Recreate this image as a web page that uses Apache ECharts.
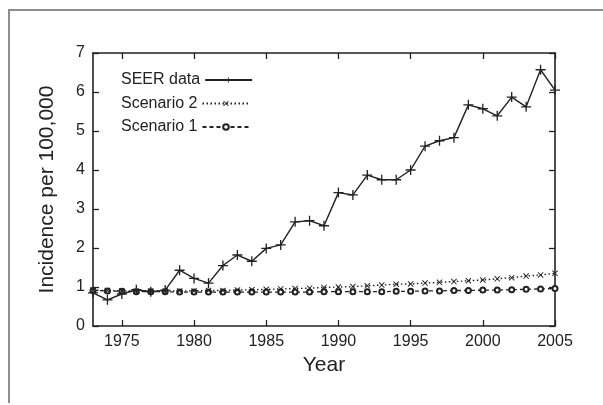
<!DOCTYPE html>
<html>
<head>
<meta charset="utf-8">
<script src="https://cdn.jsdelivr.net/npm/echarts@6/dist/echarts.min.js"></script>
<style>
  html, body { margin: 0; padding: 0; background: #fff; }
  #wrap { position: relative; width: 603px; height: 405px; overflow: hidden; }
  #chart { position: absolute; left: 0; top: 0; width: 603px; height: 405px; }
  #frame { position: absolute; left: 8px; top: 9px; width: 600px; height: 394px;
           border-top: 2.5px solid #8e8e8e; border-left: 2.5px solid #8e8e8e;
           box-sizing: border-box; pointer-events: none; }
</style>
</head>
<body>
<div id="wrap">
  <div id="chart"></div>
  <div id="frame"></div>
</div>
<script>
const years = [1973, 1974, 1975, 1976, 1977, 1978, 1979, 1980, 1981, 1982, 1983,
  1984, 1985, 1986, 1987, 1988, 1989, 1990, 1991, 1992, 1993, 1994, 1995, 1996,
  1997, 1998, 1999, 2000, 2001, 2002, 2003, 2004, 2005];
const seerData = [0.85, 0.67, 0.82, 0.93, 0.88, 0.92, 1.43, 1.22, 1.10, 1.55, 1.82,
  1.66, 1.99, 2.08, 2.67, 2.70, 2.57, 3.42, 3.36, 3.87, 3.75, 3.75, 4.00, 4.61,
  4.75, 4.83, 5.67, 5.57, 5.39, 5.87, 5.62, 6.57, 6.05];
const scenario2 = [0.92, 0.91, 0.90, 0.90, 0.90, 0.90, 0.90, 0.90, 0.91, 0.91, 0.92,
  0.93, 0.94, 0.95, 0.96, 0.97, 0.99, 1.00, 1.01, 1.03, 1.05, 1.07, 1.08, 1.10,
  1.12, 1.14, 1.16, 1.18, 1.21, 1.24, 1.28, 1.31, 1.35];
const scenario1 = [0.91, 0.90, 0.89, 0.88, 0.88, 0.88, 0.87, 0.87, 0.87, 0.87, 0.87,
  0.87, 0.87, 0.87, 0.87, 0.87, 0.88, 0.88, 0.88, 0.88, 0.88, 0.89, 0.89, 0.90,
  0.90, 0.91, 0.91, 0.92, 0.92, 0.93, 0.94, 0.95, 0.96];
const xTicks = [1975, 1980, 1985, 1990, 1995, 2000, 2005];
const seriesNames = ['SEER data', 'Scenario 2', 'Scenario 1'];

const ink = '#222';
const font = 'Liberation Sans, Arial, Helvetica, sans-serif';
const plusPath = 'path://M0,4.35H10V5.65H0ZM4.35,0H5.65V10H4.35Z';
const crossPath = 'path://M0,1.1L1.1,0L10,8.9L8.9,10ZM8.9,0L10,1.1L1.1,10L0,8.9Z';

function pairs(vals) { return years.map((y, i) => [y, vals[i]]); }

function legendFor(name, top) {
  return {
    orient: 'vertical', left: 116, top: top, align: 'right',
    itemWidth: 47, itemHeight: 7, itemGap: 0,
    data: [name],
    textStyle: { fontFamily: font, fontSize: 16, color: ink, lineHeight: 18 }
  };
}

const chart = echarts.init(document.getElementById('chart'), null, { renderer: 'canvas' });
const axisCommon = {
  axisLine: { show: true, onZero: false, lineStyle: { color: ink, width: 1.6 } },
  splitLine: { show: false }
};
chart.setOption({
  animation: false,
  backgroundColor: '#fff',
  textStyle: { fontFamily: font },
  grid: { left: 93, right: 48, top: 53, bottom: 79, containLabel: false },
  legend: [
    legendFor(seriesNames[0], 66),
    legendFor(seriesNames[1], 89.5),
    legendFor(seriesNames[2], 113)
  ],
  xAxis: [
    Object.assign({}, axisCommon, {
      type: 'value', min: 1973, max: 2005, position: 'bottom',
      name: 'Year', nameLocation: 'middle', nameGap: 29,
      nameTextStyle: { fontFamily: font, fontSize: 21, color: ink },
      axisTick: { show: true, inside: true, length: 6, customValues: xTicks, lineStyle: { color: ink, width: 1.3 } },
      axisLabel: { show: true, customValues: xTicks, fontSize: 16, color: ink, margin: 8, fontFamily: font,
        formatter: v => String(v) }
    }),
    Object.assign({}, axisCommon, {
      type: 'value', min: 1973, max: 2005, position: 'top',
      axisTick: { show: true, inside: true, length: 6, customValues: xTicks, lineStyle: { color: ink, width: 1.3 } },
      axisLabel: { show: false }
    })
  ],
  yAxis: [
    Object.assign({}, axisCommon, {
      type: 'value', min: 0, max: 7, interval: 1, position: 'left',
      name: 'Incidence per 100,000', nameLocation: 'middle', nameGap: 35,
      nameTextStyle: { fontFamily: font, fontSize: 21, color: ink },
      axisTick: { show: true, inside: true, length: 6, lineStyle: { color: ink, width: 1.3 } },
      axisLabel: { show: true, fontSize: 16, color: ink, margin: 8, fontFamily: font }
    }),
    Object.assign({}, axisCommon, {
      type: 'value', min: 0, max: 7, interval: 1, position: 'right',
      axisTick: { show: true, inside: true, length: 6, lineStyle: { color: ink, width: 1.3 } },
      axisLabel: { show: false }
    })
  ],
  series: [
    {
      name: seriesNames[0], type: 'line', xAxisIndex: 0, yAxisIndex: 0,
      data: pairs(seerData), symbol: plusPath, symbolSize: 10,
      itemStyle: { color: ink }, lineStyle: { color: ink, width: 1.4, type: 'solid' },
      z: 5
    },
    {
      name: seriesNames[1], type: 'line', xAxisIndex: 0, yAxisIndex: 0,
      data: pairs(scenario2), symbol: crossPath, symbolSize: 6,
      itemStyle: { color: ink }, lineStyle: { color: ink, width: 1.4, type: [1.5, 2.5] },
      z: 4
    },
    {
      name: seriesNames[2], type: 'line', xAxisIndex: 0, yAxisIndex: 0,
      data: pairs(scenario1), symbol: 'emptyCircle', symbolSize: 5,
      itemStyle: { color: ink, borderWidth: 1 },
      lineStyle: { color: ink, width: 1.3, type: [4, 3] },
      z: 3
    }
  ]
});
</script>
</body>
</html>
